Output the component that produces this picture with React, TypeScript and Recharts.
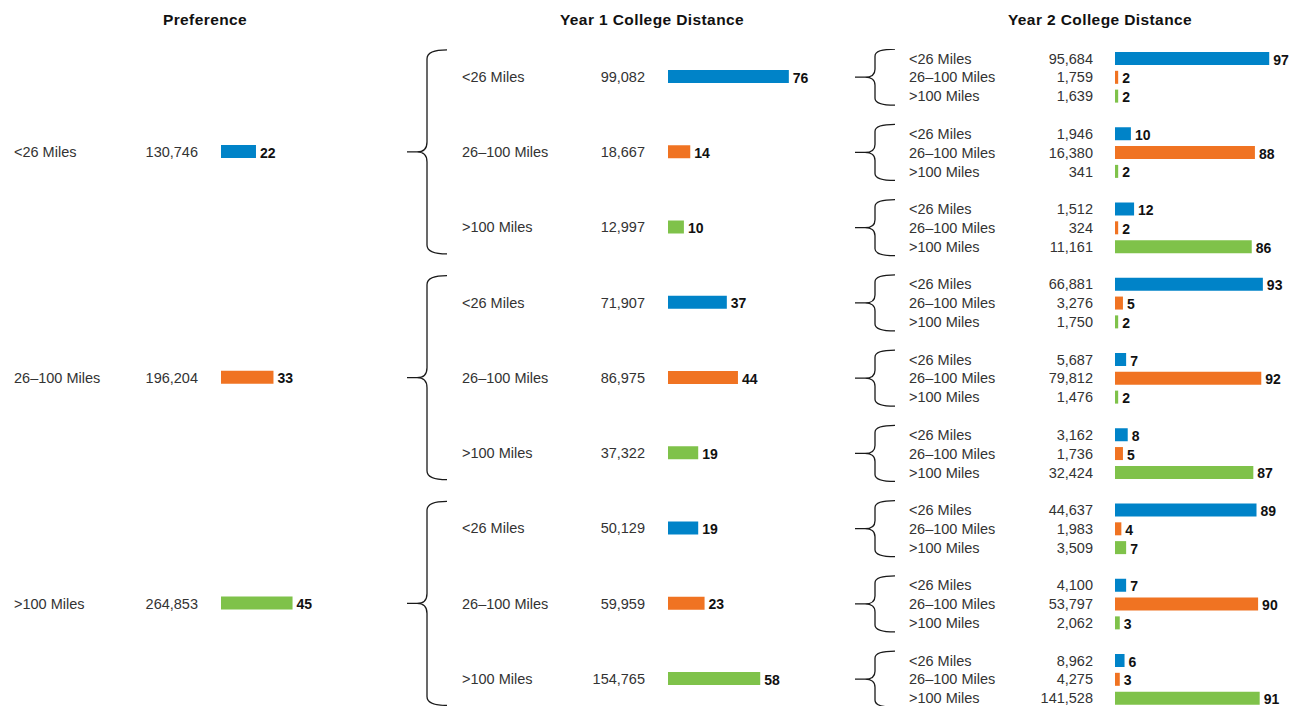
import React from 'react';
import { BarChart, Bar, XAxis, YAxis, LabelList, Cell } from 'recharts';

// ---------- data ----------
const distanceLabels = ['<26 Miles', '26–100 Miles', '>100 Miles'];
const distanceColors = ['#0083C8', '#F07322', '#7FC24A'];
const titles = ['Preference', 'Year 1 College Distance', 'Year 2 College Distance'];

const preferenceCounts = [130746, 196204, 264853];
const preferencePct = [22, 33, 45];

const year1Counts = [99082, 18667, 12997, 71907, 86975, 37322, 50129, 59959, 154765];
const year1Pct = [76, 14, 10, 37, 44, 19, 19, 23, 58];

const year2Counts = [
  95684, 1759, 1639,
  1946, 16380, 341,
  1512, 324, 11161,
  66881, 3276, 1750,
  5687, 79812, 1476,
  3162, 1736, 32424,
  44637, 1983, 3509,
  4100, 53797, 2062,
  8962, 4275, 141528,
];
const year2Pct = [
  97, 2, 2,
  10, 88, 2,
  12, 2, 86,
  93, 5, 2,
  7, 92, 2,
  8, 5, 87,
  89, 4, 7,
  7, 90, 3,
  6, 3, 91,
];

// ---------- layout ----------
const FONT = '"Liberation Sans", Arial, Helvetica, sans-serif';
const ROW = 75.25;
const TOP = 39.4;
const SUB = ROW / 4;
const PLOT_W = 159; // width for 100%

type Row = {
  id: string;
  label: string;
  count: number | null;
  pct: number | null;
  color: string;
  brace: boolean;
};

const prefRows: Row[] = preferenceCounts.map((c, i) => ({
  id: 'p' + i,
  label: distanceLabels[i],
  count: c,
  pct: preferencePct[i],
  color: distanceColors[i],
  brace: false,
}));

const y1Rows: Row[] = year1Counts.map((c, i) => ({
  id: 'a' + i,
  label: distanceLabels[i % 3],
  count: c,
  pct: year1Pct[i],
  color: distanceColors[i % 3],
  brace: i % 3 === 1,
}));

const y2Rows: Row[] = [];
year2Counts.forEach((c, i) => {
  if (i > 0 && i % 3 === 0) {
    y2Rows.push({ id: 'gap' + i, label: '', count: null, pct: null, color: 'none', brace: false });
  }
  y2Rows.push({
    id: 'b' + i,
    label: distanceLabels[i % 3],
    count: c,
    pct: year2Pct[i],
    color: distanceColors[i % 3],
    brace: i % 3 === 1,
  });
});

type BraceCfg = { tip: number; spine: number; end: number; half: number; hook: number; neck: number };
type ColCfg = {
  rows: Row[];
  left: number;
  top: number;
  height: number;
  axisW: number;
  width: number;
  labelX: number;
  countX: number;
  brace?: BraceCfg;
};

const columns: ColCfg[] = [
  {
    rows: prefRows,
    left: 0,
    top: TOP,
    height: 9 * ROW,
    axisW: 221,
    width: 221 + PLOT_W + 40,
    labelX: 14,
    countX: 198,
  },
  {
    rows: y1Rows,
    left: 400,
    top: TOP,
    height: 9 * ROW,
    axisW: 268,
    width: 268 + PLOT_W + 50,
    labelX: 62,
    countX: 245,
    brace: { tip: 7, spine: 27, end: 47, half: 102, hook: 9, neck: 10 },
  },
  {
    rows: y2Rows,
    left: 850,
    top: TOP + ROW / 2 - 1.5 * SUB,
    height: 35 * SUB,
    axisW: 265,
    width: 1289 - 850,
    labelX: 59,
    countX: 243,
    brace: { tip: 5, spine: 25, end: 45, half: 28, hook: 7, neck: 8 },
  },
];

const titleCenters = [205, 652, 1100];

function bracePath(b: BraceCfg, yc: number) {
  const t = yc - b.half;
  const bt = yc + b.half;
  const mid = b.tip + (b.spine - b.tip) / 2;
  return (
    `M${b.end},${t} Q${b.spine},${t} ${b.spine},${t + b.hook} ` +
    `L${b.spine},${yc - b.neck} Q${b.spine},${yc} ${mid},${yc} L${b.tip},${yc} ` +
    `M${mid},${yc} Q${b.spine},${yc} ${b.spine},${yc + b.neck} ` +
    `L${b.spine},${bt - b.hook} Q${b.spine},${bt} ${b.end},${bt}`
  );
}

const fmt = (n: number) => n.toLocaleString('en-US');

function makeTick(cfg: ColCfg) {
  const map = new Map(cfg.rows.map((r) => [r.id, r]));
  return (props: any) => {
    const { y, payload } = props;
    const row = map.get(payload?.value);
    if (!row || row.count == null) return <g />;
    return (
      <g>
        {row.brace && cfg.brace ? (
          <path d={bracePath(cfg.brace, y)} fill="none" stroke="#1a1a1a" strokeWidth={1.3} />
        ) : null}
        <text
          x={cfg.labelX}
          y={y}
          dy="0.36em"
          textAnchor="start"
          fill="#333"
          fontSize={14.5}
          fontFamily={FONT}
        >
          {row.label}
        </text>
        <text
          x={cfg.countX}
          y={y}
          dy="0.36em"
          textAnchor="end"
          fill="#333"
          fontSize={14.5}
          fontFamily={FONT}
        >
          {fmt(row.count)}
        </text>
      </g>
    );
  };
}

const renderPct = (props: any) => {
  const { x, y, width, height, value } = props;
  if (value == null) return null;
  return (
    <text
      x={Number(x) + Number(width) + 4}
      y={Number(y) + Number(height) / 2 + 1}
      dy="0.36em"
      textAnchor="start"
      fill="#111"
      fontWeight="bold"
      fontSize={14}
      fontFamily={FONT}
    >
      {value}
    </text>
  );
};

function Column({ cfg }: { cfg: ColCfg }) {
  return (
    <div style={{ position: 'absolute', left: cfg.left, top: cfg.top }}>
      <BarChart
        width={cfg.width}
        height={cfg.height}
        data={cfg.rows}
        layout="vertical"
        margin={{ top: 0, right: cfg.width - cfg.axisW - PLOT_W, bottom: 0, left: 0 }}
      >
        <XAxis type="number" domain={[0, 100]} hide />
        <YAxis
          type="category"
          dataKey="id"
          width={cfg.axisW}
          axisLine={false}
          tickLine={false}
          interval={0}
          tick={makeTick(cfg)}
        />
        <Bar dataKey="pct" barSize={13} isAnimationActive={false}>
          {cfg.rows.map((r) => (
            <Cell key={r.id} fill={r.color} />
          ))}
          <LabelList dataKey="pct" content={renderPct} />
        </Bar>
      </BarChart>
    </div>
  );
}

export default function App() {
  return (
    <div
      style={{
        position: 'absolute',
        left: 0,
        top: 0,
        width: 1289,
        height: 706,
        overflow: 'hidden',
        background: '#fff',
        fontFamily: FONT,
      }}
    >
      {titles.map((t, i) => (
        <div
          key={t}
          style={{
            position: 'absolute',
            left: titleCenters[i] - 150,
            width: 300,
            top: 10,
            lineHeight: '20px',
            textAlign: 'center',
            fontWeight: 'bold',
            fontSize: 15.5,
            letterSpacing: 0.4,
            color: '#111',
          }}
        >
          {t}
        </div>
      ))}
      {columns.map((c, i) => (
        <Column key={i} cfg={c} />
      ))}
    </div>
  );
}
